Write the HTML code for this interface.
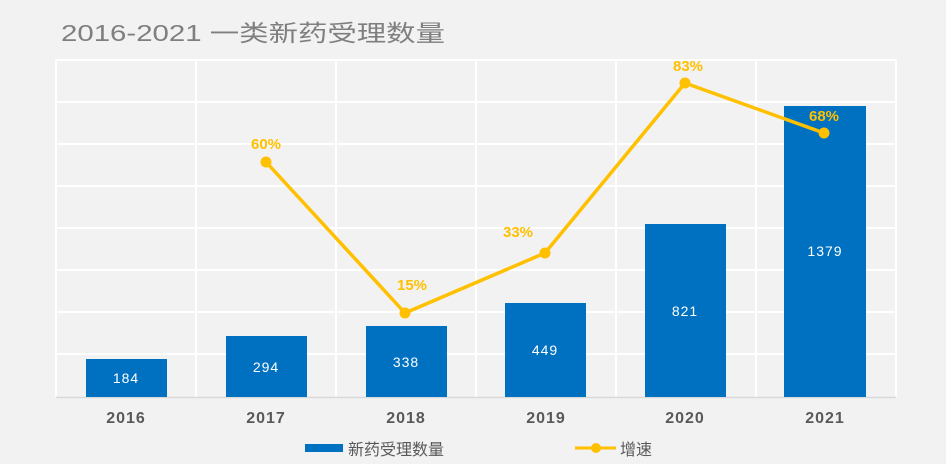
<!DOCTYPE html>
<html><head><meta charset="utf-8"><style>
html,body{margin:0;padding:0;background:#f2f2f2;}
svg{display:block;}
text{font-family:"Liberation Sans","Noto Sans CJK SC",sans-serif;}
</style></head><body>
<svg width="946" height="464" viewBox="0 0 946 464" xmlns="http://www.w3.org/2000/svg">
<rect width="946" height="464" fill="#f2f2f2"/>
<text x="61" y="41" font-size="23" fill="#7f7f7f" textLength="384" lengthAdjust="spacingAndGlyphs">2016-2021 一类新药受理数量</text>
<g stroke="#ffffff" stroke-width="2">
<line x1="56" y1="60" x2="896" y2="60"/><line x1="56" y1="102" x2="896" y2="102"/>
<line x1="56" y1="144" x2="896" y2="144"/><line x1="56" y1="186" x2="896" y2="186"/>
<line x1="56" y1="228" x2="896" y2="228"/><line x1="56" y1="270" x2="896" y2="270"/>
<line x1="56" y1="312" x2="896" y2="312"/><line x1="56" y1="354" x2="896" y2="354"/>
<line x1="56" y1="60" x2="56" y2="397"/><line x1="196" y1="60" x2="196" y2="397"/>
<line x1="336" y1="60" x2="336" y2="397"/><line x1="476" y1="60" x2="476" y2="397"/>
<line x1="616" y1="60" x2="616" y2="397"/><line x1="756" y1="60" x2="756" y2="397"/>
<line x1="896" y1="60" x2="896" y2="397"/>
</g>
<line x1="56" y1="397.5" x2="896" y2="397.5" stroke="#d9d9d9" stroke-width="1.5"/>
<g fill="#0070c0">
<rect x="86" y="359" width="81" height="38"/>
<rect x="226" y="336" width="81" height="61"/>
<rect x="366" y="326" width="81" height="71"/>
<rect x="505" y="303" width="81" height="94"/>
<rect x="645" y="224" width="81" height="173"/>
<rect x="784" y="106" width="82" height="291"/>
</g>
<g fill="#ffffff" font-size="14" text-anchor="middle" letter-spacing="1">
<text x="126" y="383">184</text><text x="266" y="372">294</text>
<text x="406" y="367">338</text><text x="545" y="355">449</text>
<text x="685" y="316">821</text><text x="825" y="256">1379</text>
</g>
<polyline points="266,162 405,313 545,253 685,83 824,133" fill="none" stroke="#ffc000" stroke-width="3.5" stroke-linejoin="round"/>
<g fill="#ffc000">
<circle cx="266" cy="162" r="5.5"/><circle cx="405" cy="313" r="5.5"/>
<circle cx="545" cy="253" r="5.5"/><circle cx="685" cy="83" r="5.5"/>
<circle cx="824" cy="133" r="5.5"/>
</g>
<g fill="#ffc000" font-size="15" font-weight="bold" text-anchor="middle">
<text x="266" y="149">60%</text><text x="412" y="290">15%</text>
<text x="518" y="237">33%</text><text x="688" y="71">83%</text>
<text x="824" y="121">68%</text>
</g>
<g fill="#595959" font-size="16" font-weight="bold" text-anchor="middle" letter-spacing="1">
<text x="126" y="423">2016</text><text x="266" y="423">2017</text>
<text x="406" y="423">2018</text><text x="546" y="423">2019</text>
<text x="685" y="423">2020</text><text x="825" y="423">2021</text>
</g>
<rect x="305" y="444" width="38" height="8" fill="#0070c0"/>
<text x="348" y="455" font-size="16" fill="#595959">新药受理数量</text>
<line x1="575" y1="448" x2="616" y2="448" stroke="#ffc000" stroke-width="3"/>
<circle cx="596" cy="448" r="5" fill="#ffc000"/>
<text x="620" y="455" font-size="16" fill="#595959">增速</text>
</svg>
</body></html>
